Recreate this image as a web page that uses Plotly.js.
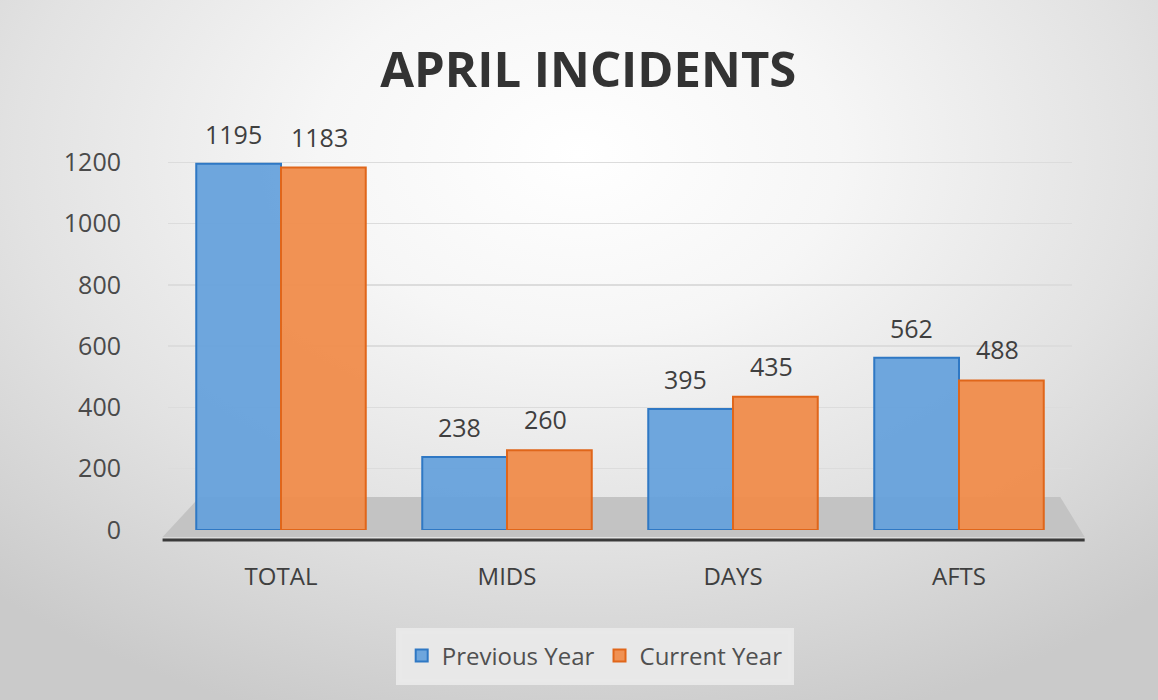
<!DOCTYPE html>
<html>
<head>
<meta charset="utf-8">
<script src="https://cdn.plot.ly/plotly-3.0.1.min.js"></script>
<style>
  html, body { margin: 0; padding: 0; }
  body { width: 1158px; height: 700px; overflow: hidden;
         background: radial-gradient(ellipse 75% 85% at 50% 22%, #ffffff 0%, #f6f6f6 30%, #e2e2e2 65%, #cacaca 100%); }
  #chart { width: 1158px; height: 700px; }
</style>
</head>
<body>
<div id="chart"></div>
<script>
const categories = ["TOTAL", "MIDS", "DAYS", "AFTS"];
const previousYear = [1195, 238, 395, 562];
const currentYear = [1183, 260, 435, 488];
const yTicks = [0, 200, 400, 600, 800, 1000, 1200];

const labelFont = { family: "Open Sans, DejaVu Sans, sans-serif", size: 25, color: "#3f3f3f" };

const traces = [
  {
    type: "bar", name: "Previous Year", x: categories, y: previousYear,
    marker: { color: "rgba(100,160,220,0.93)", line: { color: "#2f78c4", width: 2 } }
  },
  {
    type: "bar", name: "Current Year", x: categories, y: currentYear,
    marker: { color: "rgba(240,140,75,0.95)", line: { color: "#e0661a", width: 2 } }
  }
];

// value labels above each bar, built from the data arrays
const annotations = [];
categories.forEach((c, i) => {
  annotations.push({ x: c, y: previousYear[i], xref: "x", yref: "y", text: String(previousYear[i]),
    showarrow: false, xshift: -48, yshift: 30, yanchor: "middle", font: labelFont });
  annotations.push({ x: c, y: currentYear[i], xref: "x", yref: "y", text: String(currentYear[i]),
    showarrow: false, xshift: 38, yshift: 31, yanchor: "middle", font: labelFont });
});

const layout = {
  width: 1158, height: 700,
  paper_bgcolor: "rgba(0,0,0,0)", plot_bgcolor: "rgba(0,0,0,0)",
  margin: { l: 168, r: 86, t: 147, b: 170 },
  title: { text: "<b>APRIL INCIDENTS</b>", x: 0.508, xanchor: "center", y: 0.9, yanchor: "middle",
           font: { family: "Open Sans, sans-serif", size: 49, color: "#333333" } },
  barmode: "group", bargap: 0.25, bargroupgap: 0,
  showlegend: true,
  legend: { orientation: "h", x: 0.472, xanchor: "center", y: -0.329, yanchor: "middle",
            bgcolor: "rgba(233,233,233,0.95)", bordercolor: "rgba(233,233,233,0.95)", borderwidth: 6,
            font: { family: "Open Sans, sans-serif", size: 24, color: "#505050" },
            itemwidth: 30, traceorder: "normal" },
  xaxis: { type: "category", showgrid: false, zeroline: false, showline: false, ticks: "",
           ticklabelstandoff: 30, tickfont: { family: "Open Sans, sans-serif", size: 24, color: "#3f3f3f" } },
  yaxis: { range: [0, 1250], tickvals: yTicks, ticktext: yTicks.map(String),
           showgrid: true, gridcolor: "#dcdcdc", gridwidth: 1.5, zeroline: false, showline: false, ticks: "",
           ticklabelstandoff: 46, tickfont: { family: "Open Sans, sans-serif", size: 25, color: "#4a4a4a" } },
  annotations: annotations,
  shapes: [
    { type: "path", xref: "paper", yref: "paper", layer: "below",
      path: "M 0.035 0.086 L 0.987 0.086 L 1.014 -0.018 L -0.006 -0.018 Z",
      fillcolor: "#c3c3c3", line: { width: 0 } },
    { type: "line", xref: "paper", yref: "paper", layer: "below",
      x0: -0.006, x1: 1.014, y0: -0.026, y1: -0.026, line: { color: "#3a3a3a", width: 3 } }
  ]
};

Plotly.newPlot("chart", traces, layout, { displayModeBar: false, staticPlot: true });
</script>
</body>
</html>
